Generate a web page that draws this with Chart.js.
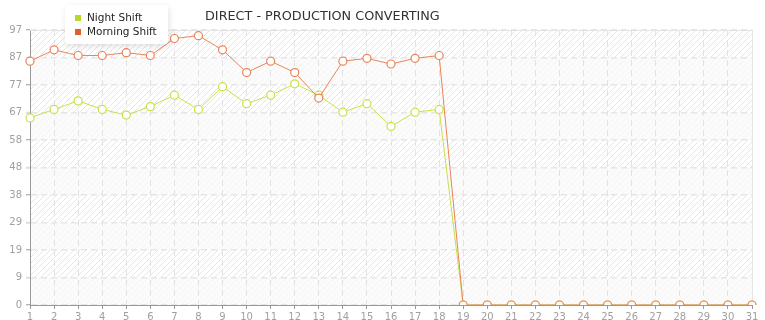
<!DOCTYPE html>
<html>
<head>
<meta charset="utf-8">
<script src="https://cdn.jsdelivr.net/npm/chart.js@4/dist/chart.umd.min.js"></script>
<style>
html,body{margin:0;padding:0;background:#fff;overflow:hidden;}
#wrap{position:relative;width:765px;height:320px;}
</style>
</head>
<body>
<div id="wrap"><canvas id="c" width="765" height="320"></canvas></div>
<script>
const chartTitle = "DIRECT - PRODUCTION CONVERTING";
const days = ["1","2","3","4","5","6","7","8","9","10","11","12","13","14","15","16","17","18","19","20","21","22","23","24","25","26","27","28","29","30","31"];
const nightShift = [66,69,72,69,67,70,74,69,77,71,74,78,74,68,71,63,68,69,0,0,0,0,0,0,0,0,0,0,0,0,0];
const morningShift = [86,90,88,88,89,88,94,95,90,82,86,82,73,86,87,85,87,88,0,0,0,0,0,0,0,0,0,0,0,0,0];
const yTickValues = [0,9.7,19.4,29.1,38.8,48.5,58.2,67.9,77.6,87.3,97];

const nightColor = '#c9e04a';
const nightMarker = '#b8d62c';
const morningColor = '#e98559';
const morningMarker = '#e0602a';

function makeHatch(){
  const c = document.createElement('canvas');
  c.width = 6; c.height = 6;
  const g = c.getContext('2d');
  g.fillStyle = '#ffffff'; g.fillRect(0,0,6,6);
  g.strokeStyle = '#e6e6e6'; g.lineWidth = 1;
  g.beginPath();
  g.moveTo(-1,7); g.lineTo(7,-1);
  g.moveTo(-1,1); g.lineTo(1,-1);
  g.moveTo(5,7); g.lineTo(7,5);
  g.stroke();
  return c;
}

const bgPlugin = {
  id:'bg',
  beforeDraw(chart){
    const {ctx, chartArea:a, scales:{y}} = chart;
    ctx.save();
    ctx.fillStyle = ctx.createPattern(makeHatch(),'repeat');
    ctx.fillRect(a.left,a.top,a.right-a.left,a.bottom-a.top);
    for(let i=0;i<yTickValues.length-1;i++){
      if(i%2===0){
        const yb = y.getPixelForValue(yTickValues[i]);
        const yt = y.getPixelForValue(yTickValues[i+1]);
        ctx.fillStyle = 'rgba(249,249,249,0.75)';
        ctx.fillRect(a.left,yt,a.right-a.left,yb-yt);
      }
    }
    ctx.restore();
  },
  beforeDatasetsDraw(chart){
    const {ctx, chartArea:a} = chart;
    ctx.save();
    ctx.strokeStyle = '#e4e4e4'; ctx.lineWidth = 1;
    ctx.beginPath();
    ctx.moveTo(a.left, a.top+0.5); ctx.lineTo(a.right+0.5, a.top+0.5);
    ctx.lineTo(a.right+0.5, a.bottom);
    ctx.stroke();
    ctx.restore();
  }
};

const overlayPlugin = {
  id:'overlay',
  afterDraw(chart){
    const ctx = chart.ctx;
    ctx.save();
    // title
    ctx.font = '12.8px "DejaVu Sans", Verdana, sans-serif';
    ctx.fillStyle = '#333';
    ctx.textAlign = 'left'; ctx.textBaseline = 'middle';
    ctx.fillText(chartTitle, 205, 17);
    // legend box
    ctx.shadowColor = 'rgba(0,0,0,0.12)';
    ctx.shadowBlur = 6; ctx.shadowOffsetX = 1; ctx.shadowOffsetY = 2;
    ctx.fillStyle = '#fff';
    ctx.beginPath();
    ctx.roundRect(65, 5, 103, 39, 3);
    ctx.fill();
    ctx.shadowColor = 'transparent';
    ctx.font = '10.5px "DejaVu Sans", Verdana, sans-serif';
    chart.data.datasets.forEach((ds,i)=>{
      const yy = 18 + i*14;
      ctx.fillStyle = ds.markerColor;
      ctx.fillRect(75, yy-3, 6, 6);
      ctx.fillStyle = '#222';
      ctx.fillText(ds.label, 87, yy+0.5);
    });
    ctx.restore();
  }
};

new Chart(document.getElementById('c'), {
  type:'line',
  data:{
    labels: days,
    datasets:[
      {label:'Night Shift', data: nightShift, order:1, borderColor: nightColor, markerColor: nightMarker,
       backgroundColor:'#fff', pointBackgroundColor:'#fff', pointBorderColor: nightColor,
       borderWidth:1, pointRadius:4, pointBorderWidth:1.2, tension:0, fill:false},
      {label:'Morning Shift', data: morningShift, order:0, borderColor: morningColor, markerColor: morningMarker,
       backgroundColor:'#fff', pointBackgroundColor:'#fff', pointBorderColor: morningColor,
       borderWidth:1, pointRadius:4, pointBorderWidth:1.2, tension:0, fill:false}
    ]
  },
  options:{
    responsive:false,
    animation:false,
    layout:{padding:{top:30,right:13,left:0,bottom:0}},
    plugins:{legend:{display:false},title:{display:false},tooltip:{enabled:false}},
    scales:{
      x:{
        offset:false,
        afterFit(s){ s.height = 15; },
        grid:{color:'#e2e2e2', drawOnChartArea:true, tickLength:4, tickColor:'#999', lineWidth:1},
        border:{display:true, color:'#999', width:1, dash:[6,4]},
        ticks:{autoSkip:false, maxRotation:0, color:'#a0a0a0', padding:2,
               font:{family:'"DejaVu Sans", Verdana, sans-serif', size:10}}
      },
      y:{
        min:0, max:97,
        afterBuildTicks(s){ s.ticks = yTickValues.map(v=>({value:v})); },
        afterFit(s){ s.width = 30; },
        grid:{color:'#e6e6e6', tickLength:4,
              tickColor:(c)=> c.index%2===0 ? '#999' : '#ddd',
              tickWidth:(c)=> c.index%2===0 ? 1 : 2, lineWidth:1.5},
        border:{display:true, color:'#999', width:1, dash:[6,4]},
        ticks:{color:'#a0a0a0', padding:4,
               font:{family:'"DejaVu Sans", Verdana, sans-serif', size:10},
               callback:(v)=> Math.floor(v+1e-9)}
      }
    }
  },
  plugins:[bgPlugin, overlayPlugin]
});
</script>
</body>
</html>
